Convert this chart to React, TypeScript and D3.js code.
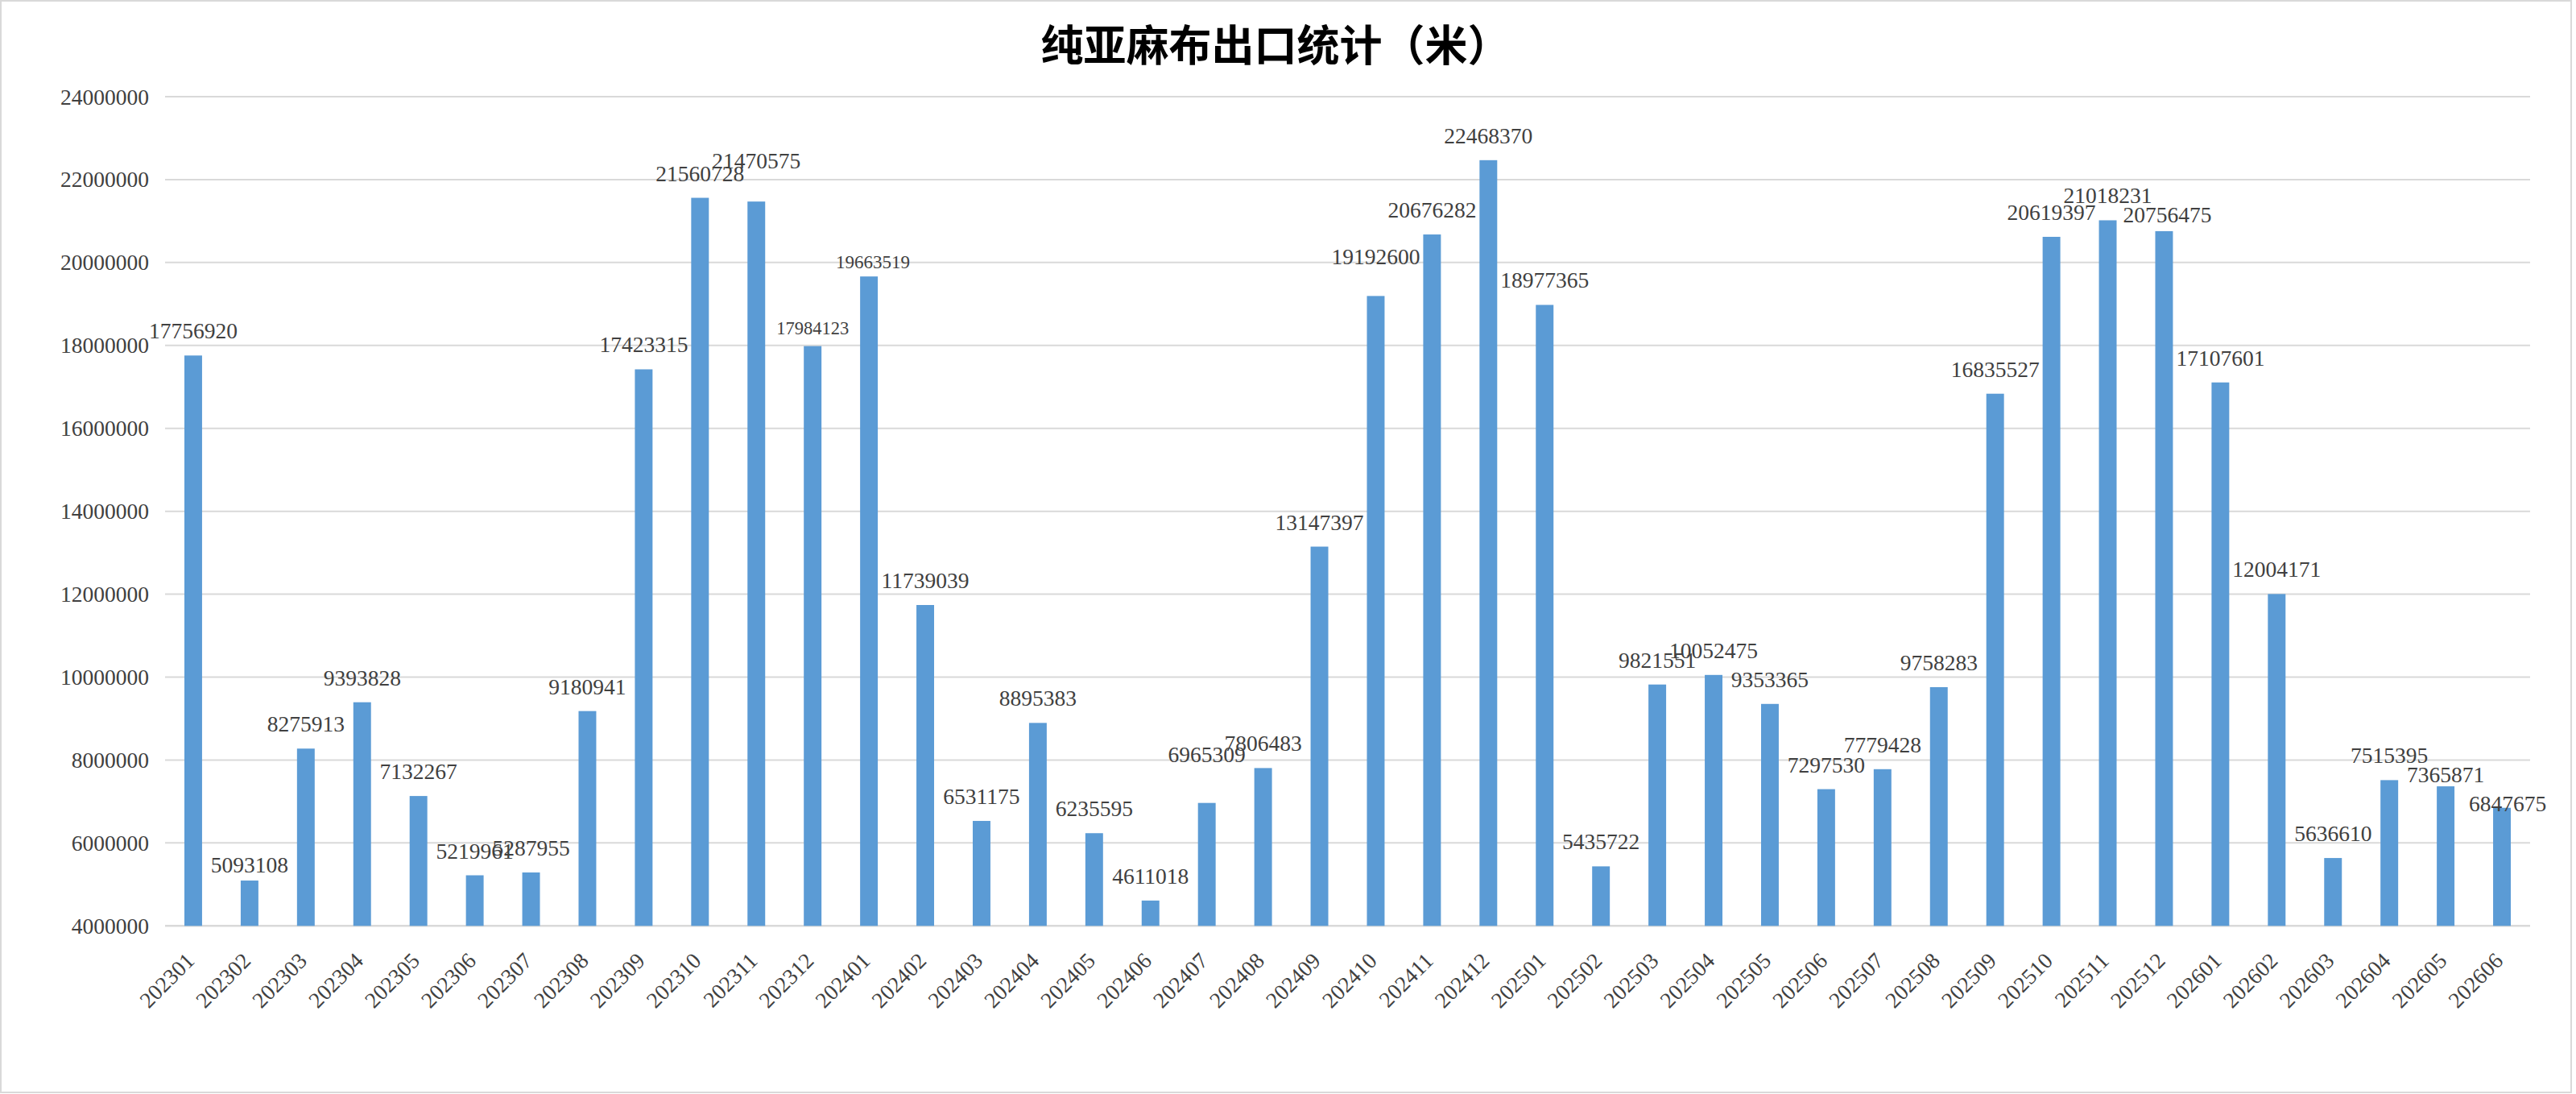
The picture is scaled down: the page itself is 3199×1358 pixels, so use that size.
import React from "react";
import * as d3 from "d3";

const TITLE = "纯亚麻布出口统计（米）";

const months: string[] = [
  "202301", "202302", "202303", "202304", "202305", "202306", "202307", "202308", "202309", "202310", "202311", "202312",
  "202401", "202402", "202403", "202404", "202405", "202406", "202407", "202408", "202409", "202410", "202411", "202412",
  "202501", "202502", "202503", "202504", "202505", "202506", "202507", "202508", "202509", "202510", "202511", "202512",
  "202601", "202602", "202603", "202604", "202605", "202606",
];

const exportMeters: number[] = [
  17756920, 5093108, 8275913, 9393828, 7132267, 5219961, 5287955, 9180941, 17423315, 21560728, 21470575, 17984123,
  19663519, 11739039, 6531175, 8895383, 6235595, 4611018, 6965309, 7806483, 13147397, 19192600, 20676282, 22468370,
  18977365, 5435722, 9821551, 10052475, 9353365, 7297530, 7779428, 9758283, 16835527, 20619397, 21018231, 20756475,
  17107601, 12004171, 5636610, 7515395, 7365871, 6847675,
];

const yTicks: number[] = [4000000, 6000000, 8000000, 10000000, 12000000, 14000000, 16000000, 18000000, 20000000, 22000000, 24000000];

// manual label placement tweaks seen in the reference (gap above bar, x shift, font size)
const labelAdjust: Record<string, { gap?: number; dx?: number; size?: number }> = {
  "202302": { gap: 10 },
  "202311": { gap: 41 },
  "202312": { gap: 15, size: 22.5 },
  "202401": { gap: 10, dx: 5, size: 23 },
  "202407": { gap: 51 },
  "202410": { gap: 39 },
  "202512": { gap: 11, dx: 4 },
  "202605": { gap: 5 },
  "202606": { gap: -4, dx: 7 },
};

const W = 3199;
const H = 1358;
const PLOT = { left: 205, right: 3142, top: 120, bottom: 1149.3 };
const FONT = "'Liberation Serif', 'Times New Roman', serif";
const TEXT_COLOR = "#404040";
const GRID = "#d9d9d9";
const BAR = "#5B9BD5";

export default function App() {
  const x = d3
    .scaleBand<string>()
    .domain(months)
    .range([PLOT.left, PLOT.right])
    .paddingInner(0.686)
    .paddingOuter(0.343);
  const y = d3.scaleLinear().domain([4000000, 24000000]).range([PLOT.bottom, PLOT.top]);
  const bw = x.bandwidth();

  return (
    <svg
      width={W}
      height={H}
      viewBox={`0 0 ${W} ${H}`}
      style={{ position: "absolute", left: 0, top: 0, display: "block", background: "#fff" }}
    >
      <rect x={0} y={0} width={W} height={H} fill="#fff" />
      <rect x={1} y={1} width={3192} height={1355} fill="none" stroke={GRID} strokeWidth={2} />

      <text
        x={1584}
        y={76}
        textAnchor="middle"
        fontFamily="'Noto Sans CJK SC', 'Noto Sans', sans-serif"
        fontWeight={700}
        fontSize={53}
        fill="#000"
      >
        {TITLE}
      </text>

      {yTicks.map((t) => (
        <g key={t}>
          <line x1={PLOT.left} x2={PLOT.right} y1={y(t)} y2={y(t)} stroke={GRID} strokeWidth={t === 4000000 ? 2.5 : 2} />
          <text
            x={185}
            y={y(t) + 9.5}
            textAnchor="end"
            fontFamily={FONT}
            fontSize={27.5}
            fill={TEXT_COLOR}
          >
            {t}
          </text>
        </g>
      ))}

      {months.map((m, i) => {
        const v = exportMeters[i];
        const bx = x(m) as number;
        return <rect key={"b" + m} x={bx} y={y(v)} width={bw} height={PLOT.bottom - y(v)} fill={BAR} />;
      })}

      {months.map((m, i) => {
        const v = exportMeters[i];
        const cx = (x(m) as number) + bw / 2;
        const adj = labelAdjust[m] || {};
        const gap = adj.gap ?? 21;
        return (
          <text
            key={"l" + m}
            x={cx + (adj.dx ?? 0)}
            y={y(v) - gap}
            textAnchor="middle"
            fontFamily={FONT}
            fontSize={adj.size ?? 27.5}
            fill={TEXT_COLOR}
          >
            {v}
          </text>
        );
      })}

      {months.map((m) => {
        const cx = (x(m) as number) + bw / 2;
        return (
          <text
            key={"x" + m}
            transform={`translate(${cx + 3},${PLOT.bottom + 45}) rotate(-45)`}
            textAnchor="end"
            fontFamily={FONT}
            fontSize={27.5}
            fill={TEXT_COLOR}
          >
            {m}
          </text>
        );
      })}
    </svg>
  );
}
